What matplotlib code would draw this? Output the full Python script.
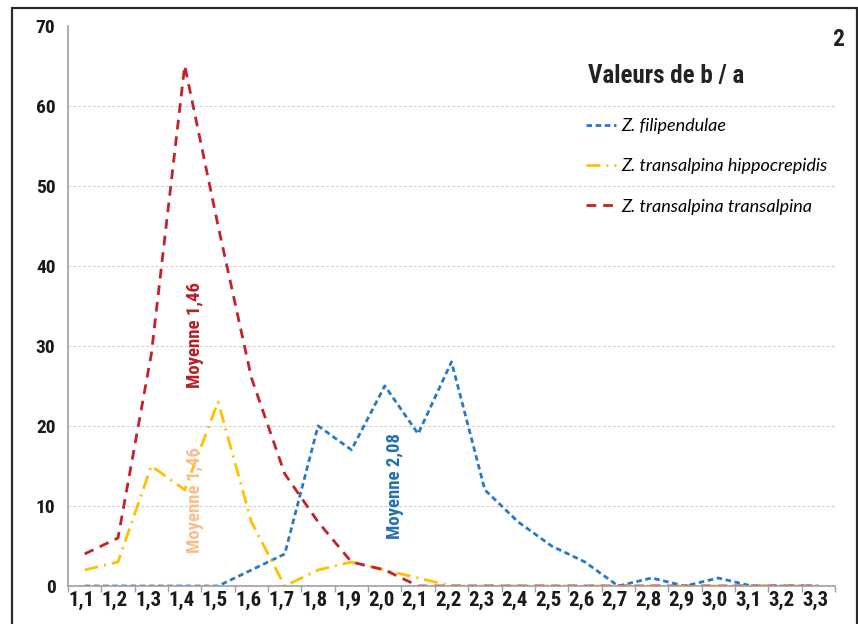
import numpy as np
import matplotlib
matplotlib.use("Agg")
import matplotlib.pyplot as plt
from matplotlib.lines import Line2D
from matplotlib.patches import Rectangle

plt.rcParams["lines.scale_dashes"] = False

# ── data ────────────────────────────────────────────────────────────────
classes = ["1,1", "1,2", "1,3", "1,4", "1,5", "1,6", "1,7", "1,8", "1,9", "2,0",
           "2,1", "2,2", "2,3", "2,4", "2,5", "2,6", "2,7", "2,8", "2,9", "3,0",
           "3,1", "3,2", "3,3"]
filipendulae = [0, 0, 0, 0, 0, 2, 4, 20, 17, 25, 19, 28, 12, 8, 5, 3, 0, 1, 0, 1, 0, 0, 0]
hippocrepidis = [2, 3, 15, 12, 23, 8, 0, 2, 3, 2, 1, 0, 0, 0, 0, 0, 0, 0, 0, 0, 0, 0, 0]
transalpina = [4, 6, 29, 65, 45, 26, 14, 8, 3, 2, 0, 0, 0, 0, 0, 0, 0, 0, 0, 0, 0, 0, 0]
yticks = [0, 10, 20, 30, 40, 50, 60, 70]

BLUE = "#2878C8"
YELLOW = "#FFC000"
RED = "#C4212B"

NARROW = dict(family=["Roboto Condensed", "DejaVu Sans"], fontstretch="condensed",
              fontweight="bold")

# ── figure ──────────────────────────────────────────────────────────────
fig = plt.figure(figsize=(8.58, 6.24), dpi=100)
W, H = 858, 624
ax = fig.add_axes([68 / W, 1 - 586 / H, (835 - 68) / W, (586 - 25.5) / H])

# outer frame
fig.patches.append(Rectangle((11.5 / W, -0.05), (856.5 - 11.5) / W, 1 - 8 / H + 0.05,
                             transform=fig.transFigure, fill=False,
                             edgecolor="#2a2a2a", lw=1.6))

x = np.arange(len(classes)) + 0.5
ax.plot(x, filipendulae, color=BLUE, lw=2.0, dashes=(4.0, 2.6),
        label="Z. filipendulae")
ax.plot(x, hippocrepidis, color=YELLOW, lw=2.0, dashes=(10, 4.3, 1.5, 4.3),
        label="Z. transalpina hippocrepidis")
ax.plot(x, transalpina, color=RED, lw=2.0, dashes=(7, 5),
        label="Z. transalpina transalpina")

ax.set_xlim(0, len(classes))
ax.set_ylim(0, 70)

# x axis: tick marks on class edges, labels near class centres
ax.set_xticks(np.arange(len(classes) + 1))
ax.set_xticklabels([])
ax.set_xticks(np.arange(len(classes)) + 0.4, minor=True)
ax.set_xticklabels(classes, minor=True, fontsize=15, color="#1a1a1a", **NARROW)
ax.tick_params(axis="x", which="major", length=4.5, color="#a0a0a0", width=1)
ax.tick_params(axis="x", which="minor", length=0, pad=3.5)

ax.set_yticks(yticks)
ax.set_yticklabels([str(v) for v in yticks], fontsize=14, color="#1a1a1a", **NARROW)
ax.tick_params(axis="y", length=0, pad=9)

ax.grid(axis="y", color="#cfcfcf", lw=0.8, ls=(0, (2, 1.5)))
ax.yaxis.get_gridlines()[-1].set_visible(False)
ax.set_axisbelow(True)

for s in ["top", "right"]:
    ax.spines[s].set_visible(False)
for s in ["left", "bottom"]:
    ax.spines[s].set_color("#a0a0a0")
    ax.spines[s].set_linewidth(1.2)

# mean annotations
ax.text(3.82, 31.3, "Moyenne 1,46", rotation=90, ha="center", va="center",
        fontsize=13.5, color="#B81E25", **NARROW)
ax.text(3.82, 10.7, "Moyenne 1,46", rotation=90, ha="center", va="center",
        fontsize=13.5, color="#F9BE8E", **NARROW)
ax.text(9.8, 12.5, "Moyenne 2,08", rotation=90, ha="center", va="center",
        fontsize=13.5, color="#2470AE", **NARROW)

# title and panel number
fig.text(588 / W, 1 - 76 / H, "Valeurs de b / a", ha="left", va="center",
         fontsize=18, color="#222222", **NARROW)
fig.text(838 / W, 1 - 40 / H, "2", ha="center", va="center",
         fontsize=17, color="#222222", **NARROW)

# legend
handles = [
    Line2D([], [], color=BLUE, lw=2.0, dashes=(4.0, 2.6)),
    Line2D([], [], color=YELLOW, lw=2.0, dashes=(10, 4.3, 1.5, 4.3)),
    Line2D([], [], color=RED, lw=2.0, dashes=(7, 5)),
]
labels = ["Z. filipendulae", "Z. transalpina hippocrepidis",
          "Z. transalpina transalpina"]
fig.legend(handles, labels, loc="upper left",
           bbox_to_anchor=(586 / W, 1 - 118 / H), frameon=False,
           borderpad=0, borderaxespad=0, handlelength=1.65, handletextpad=0.3,
           labelspacing=1.35,
           prop={"family": ["Lato", "DejaVu Sans"], "style": "italic", "size": 13})

fig.savefig("out.png", dpi=100)
